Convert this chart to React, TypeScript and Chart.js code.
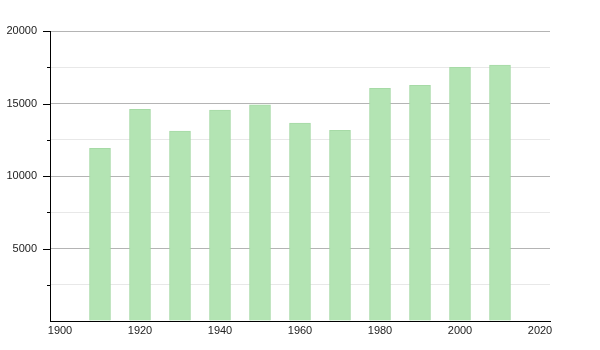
import React, { useEffect, useRef } from "react";
import { Chart, registerables } from "chart.js";

Chart.register(...registerables);

const years = [1910, 1920, 1930, 1940, 1950, 1960, 1970, 1980, 1990, 2000, 2010];
const population = [11900, 14600, 13100, 14550, 14900, 13650, 13150, 16050, 16250, 17500, 17650];
const xTicks = [1900, 1920, 1940, 1960, 1980, 2000, 2020];
const yTicks = [0, 2500, 5000, 7500, 10000, 12500, 15000, 17500, 20000];

const FONT = "'Liberation Sans', Arial, sans-serif";

const yTickMarks = {
  id: "yTickMarks",
  afterDraw(chart: any) {
    const ctx = chart.ctx;
    const y = chart.scales.y;
    const left = chart.chartArea.left;
    ctx.save();
    ctx.strokeStyle = "#000";
    ctx.lineWidth = 1;
    yTicks.forEach((v) => {
      if (v === 0) return;
      const py = Math.round(y.getPixelForValue(v)) + 0.5;
      const len = v % 5000 === 0 ? 7 : 3;
      ctx.beginPath();
      ctx.moveTo(left - len, py);
      ctx.lineTo(left, py);
      ctx.stroke();
    });
    ctx.restore();
  },
};

export default function App() {
  const ref = useRef<HTMLCanvasElement>(null);
  useEffect(() => {
    if (!ref.current) return;
    const chart = new Chart(ref.current, {
      type: "bar",
      data: {
        datasets: [
          {
            data: years.map((yr, i) => ({ x: yr, y: population[i] })),
            backgroundColor: "#b3e4b3",
            borderColor: "#a6daa6",
            borderWidth: 1,
            barThickness: 21,
          },
        ],
      },
      options: {
        responsive: false,
        animation: false,
        layout: { padding: { top: 31, right: 50, left: 0, bottom: 0 } },
        plugins: { legend: { display: false }, tooltip: { enabled: false } },
        scales: {
          x: {
            type: "linear",
            min: 1897.5,
            max: 2022.5,
            offset: false,
            afterBuildTicks: (s: any) => {
              s.ticks = xTicks.map((v) => ({ value: v }));
            },
            afterFit: (s: any) => {
              s.height = 29;
            },
            grid: { display: false, drawTicks: false, offset: false },
            border: { color: "#000", width: 1 },
            ticks: {
              color: "#222",
              font: { family: FONT, size: 11 },
              padding: 3,
              maxRotation: 0,
              autoSkip: false,
              callback: (v: any) => String(v),
            },
          },
          y: {
            min: 0,
            max: 20000,
            afterBuildTicks: (s: any) => {
              s.ticks = yTicks.map((v) => ({ value: v }));
            },
            afterFit: (s: any) => {
              s.width = 50;
            },
            grid: {
              drawTicks: false,
              color: (c: any) =>
                c.tick && c.tick.value % 5000 === 0 ? "#b4b4b4" : "#e8e8e8",
            },
            border: { color: "#000", width: 1 },
            ticks: {
              color: "#222",
              font: { family: FONT, size: 11 },
              padding: 13,
              autoSkip: false,
              callback: (v: any) => (v !== 0 && v % 5000 === 0 ? String(v) : ""),
            },
          },
        },
      },
      plugins: [yTickMarks],
    } as any);
    return () => chart.destroy();
  }, []);
  return (
    <div style={{ position: "fixed", left: 0, top: 0, width: 600, height: 350, background: "#fff" }}>
      <canvas ref={ref} width={600} height={350} />
    </div>
  );
}
